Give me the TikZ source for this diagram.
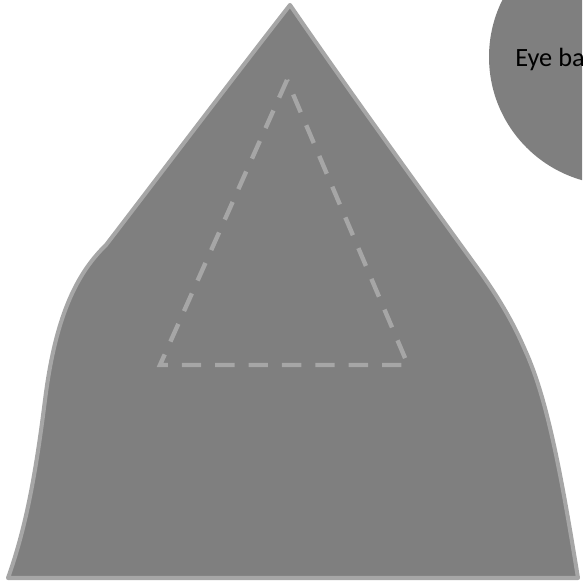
\documentclass[tikz,border=0pt]{standalone}
\usepackage{fontspec}
\setmainfont{Carlito}
\definecolor{shapegray}{RGB}{127,127,127}
\definecolor{edgegray}{RGB}{166,166,166}
\usetikzlibrary{calc}

\begin{document}
\begin{tikzpicture}[
  x=0.02cm, y=-0.02cm,
  hill/.style={fill=shapegray, draw=edgegray, line width=2.3pt, line join=round},
  guide/.style={draw=edgegray, line width=2.5pt, dash pattern=on 11pt off 8pt},
  eyeball/.style={fill=shapegray, draw=none},
  every node/.style={font=\fontsize{15}{18}\selectfont, inner sep=0pt},
]
\useasboundingbox (0,0) rectangle (582,584);
\clip (0,0) rectangle (582,584);

% Hill outline
\coordinate (apex) at (290,5);
\coordinate (leftknee) at (106,245);
\coordinate (leftfoot) at (8,578);
\coordinate (rightfoot) at (578,578);
\coordinate (rightknee) at (473,262);

\draw[hill] (apex) .. controls (230,82) and (165,168) .. (leftknee)
  .. controls (75,275) and (55,320) .. (45,400)
  .. controls (35,480) and (25,530) .. (leftfoot)
  -- (rightfoot)
  .. controls (562,480) and (548,400) .. (525,350)
  .. controls (510,315) and (492,288) .. (rightknee)
  .. controls (410,175) and (345,85) .. cycle;

% Inner triangle
\coordinate (top) at (287,80);
\coordinate (bl) at (160,365);
\coordinate (br) at (408,365);
\draw[guide] (top) -- (bl) -- (br) -- cycle;

% Eye ball
\fill[eyeball] (617,57) circle (128);
\node[anchor=base west] (eye) at (515,67) {Eye ball};

\end{tikzpicture}
\end{document}
